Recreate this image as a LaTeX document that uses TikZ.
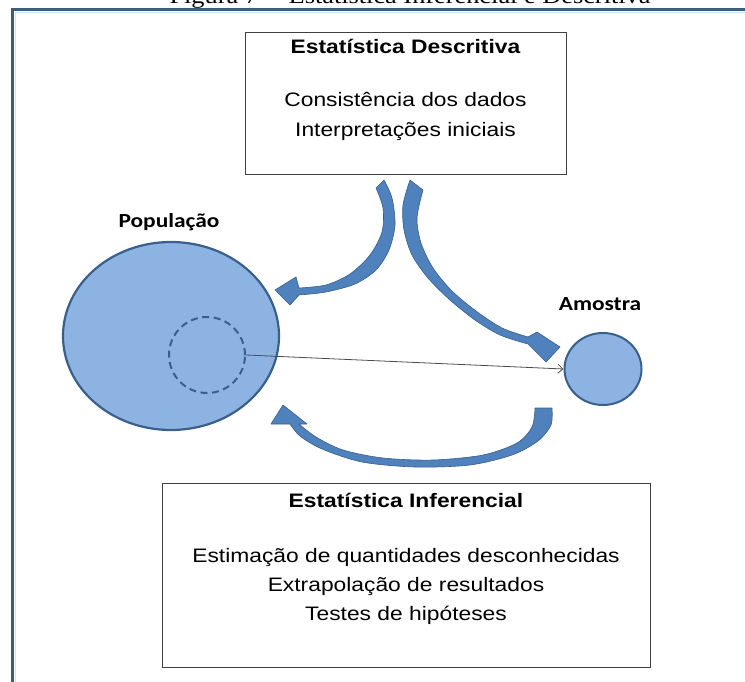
\documentclass[tikz,border=0pt]{standalone}
\usepackage{fontspec}
\setmainfont{Liberation Sans}[FakeStretch=1.17]
\newfontfamily\calibrifont{Carlito}[FakeStretch=1.17]
\newfontfamily\legendafont{Liberation Serif}[FakeStretch=1.17]
\usetikzlibrary{shapes.geometric}
\usetikzlibrary{arrows.meta}
\definecolor{popfill}{RGB}{141,179,226}
\definecolor{popedge}{RGB}{58,95,140}
\definecolor{arrfill}{RGB}{79,129,189}
\definecolor{arredge}{RGB}{56,93,138}
\definecolor{moldura}{RGB}{62,90,125}

\begin{document}
\begin{tikzpicture}[x=1pt,y=1pt,>={Straight Barb[length=5pt,width=9pt]},
caixa/.style={rectangle,draw=black!75,line width=0.9pt,fill=white,inner sep=0pt},
texto/.style={inner sep=0pt,anchor=base,font=\fontsize{19.5}{29}\selectfont},
titulo/.style={texto,font=\fontsize{19.5}{29}\selectfont\bfseries},
rotulo/.style={inner sep=0pt,anchor=base,font=\calibrifont\fontsize{20}{24}\selectfont\bfseries},
conjunto/.style={ellipse,draw=popedge,line width=2.2pt,fill=popfill,inner sep=0pt},
seta/.style={fill=arrfill,draw=arredge,line width=0.6pt,line join=round}]
\useasboundingbox (0,0) rectangle (745,-682);
% legenda cortada e moldura
\node[inner sep=0pt,anchor=base,font=\legendafont\fontsize{22.5}{26}\selectfont] (legenda) at (410,-4) {Figura 7 -- Estatística Inferencial e Descritiva};
\draw[moldura,line width=3pt] (12.5,-10) rectangle (800,-720);
\draw[popfill!40,line width=1pt] (15.5,-13) rectangle (800,-720);
% caixas
\node[caixa,minimum width=321pt,minimum height=142pt] (descritiva) at (405.5,-103) {};
\node[titulo] (descr-t) at (405.5,-54) {Estatística Descritiva};
\node[texto] (descr-1) at (405.5,-107) {Consistência dos dados};
\node[texto] (descr-2) at (405.5,-137) {Interpretações iniciais};
\node[caixa,minimum width=488pt,minimum height=184pt] (inferencial) at (406,-575) {};
\node[titulo] (infer-t) at (406,-507) {Estatística Inferencial};
\node[texto] (infer-1) at (406,-562) {Estimação de quantidades desconhecidas};
\node[texto] (infer-2) at (406,-591) {Extrapolação de resultados};
\node[texto] (infer-3) at (406,-620) {Testes de hipóteses};
% conjuntos
\node[conjunto,minimum width=216pt,minimum height=188pt] (populacao) at (171,-336) {};
\node[circle,draw=popedge,line width=2pt,dash pattern=on 7pt off 4.5pt,minimum size=76pt,inner sep=0pt] (subconj) at (207,-355) {};
\node[conjunto,line width=2pt,minimum width=77pt,minimum height=72pt] (amostra) at (603,-369) {};
\node[rotulo] (pop-rot) at (169,-228) {População};
\node[rotulo] (amo-rot) at (600,-310) {Amostra};
\draw[->,black!70,line width=0.8pt] (subconj.east) -- (amostra.west);
% setas curvas
\draw[seta] plot[smooth] coordinates {(384,-180) (392,-198) (395,-225) (389,-250) (376,-270) (355,-284) (326,-292) (299,-295)}
 -- (290,-305) -- (275,-290) -- (296,-277)
 -- plot[smooth] coordinates {(299,-288) (326,-285) (350,-274) (370,-255) (382,-232) (383,-208) (376,-188)} -- cycle;
\draw[seta] plot[smooth] coordinates {(410,-180) (403,-205) (404,-230) (412,-255) (428,-278) (450,-300) (475,-320) (500,-335) (528,-344)}
 -- (546,-362) -- (560,-347) -- (537,-332)
 -- plot[smooth] coordinates {(528,-337) (502,-328) (476,-311) (452,-291) (433,-268) (421,-243) (417,-218) (423,-190)} -- cycle;
\draw[seta] plot[smooth] coordinates {(552,-408) (551,-425) (538,-441) (512,-455) (470,-465) (415,-467) (362,-462) (322,-449) (300,-436) (290,-424)}
 -- (271,-424) -- (283,-405) -- (307,-424)
 -- plot[smooth] coordinates {(299,-424) (316,-437) (343,-450) (383,-458) (433,-460) (483,-455) (517,-443) (532,-427) (535,-408)} -- cycle;
\end{tikzpicture}
\end{document}
